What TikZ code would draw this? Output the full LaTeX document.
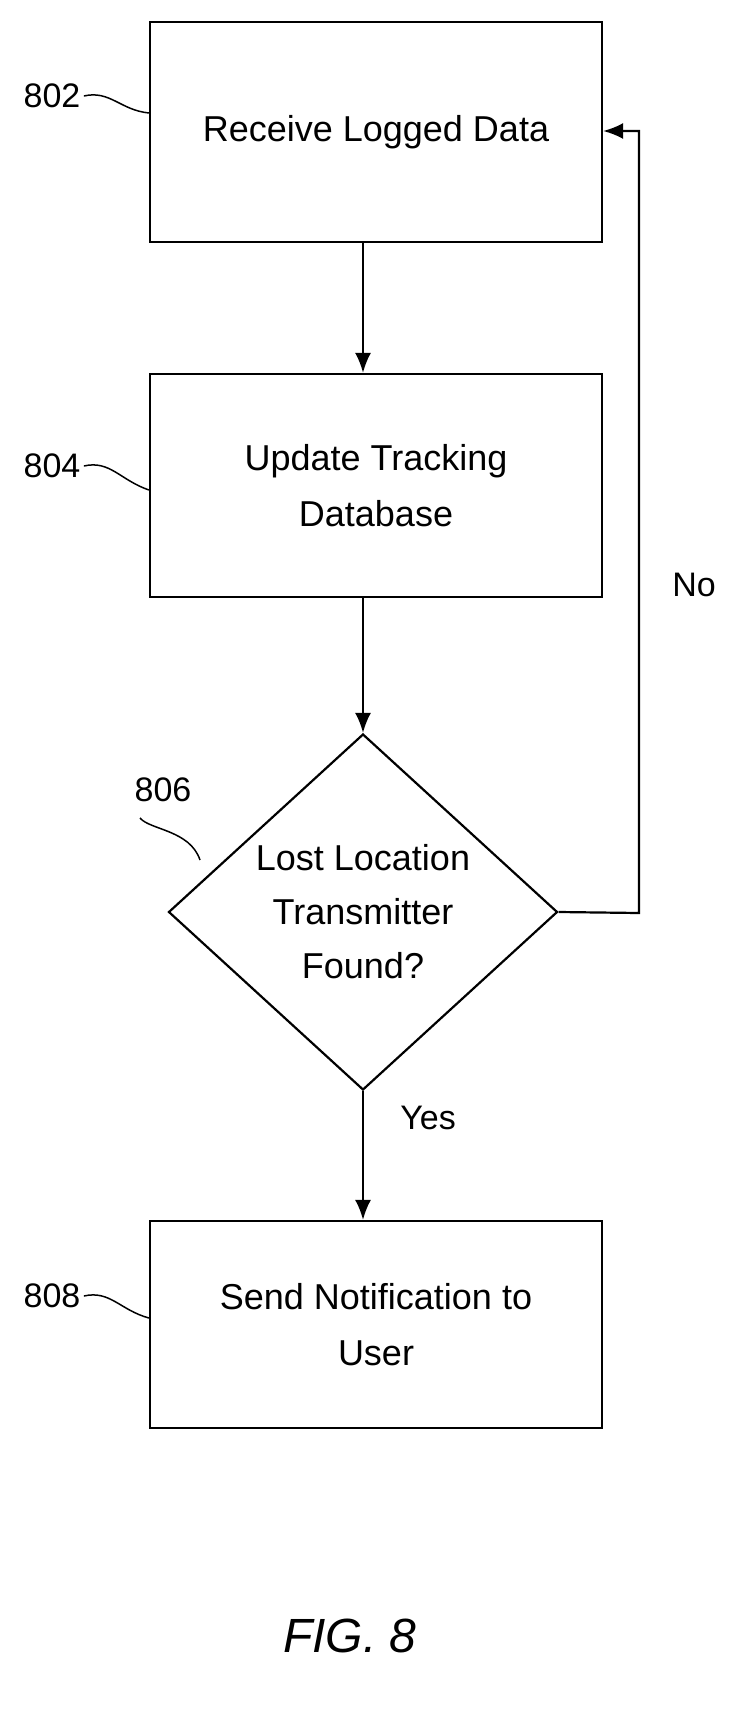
\documentclass[tikz,border=0pt]{standalone}
\usepackage{fontspec}
\setmainfont{Liberation Sans}
\usetikzlibrary{shapes.geometric,arrows.meta}
\begin{document}
\begin{tikzpicture}[x=1pt,y=-1pt,
 box/.style={draw,line width=2.2pt,minimum width=452pt,align=center,font=\fontsize{36}{56}\selectfont},
 lab/.style={font=\fontsize{34}{40}\selectfont},
 arr/.style={line width=2.2pt,-{Latex[length=20pt,width=16pt]}}]
\useasboundingbox (0,0) rectangle (733,1712);
\node[box,minimum height=220pt] (b1) at (376,132) {Receive Logged Data};
\node[box,minimum height=223pt] (b2) at (376,485.5) {Update Tracking\\Database};
\node[draw,line width=2.2pt,diamond,minimum width=389pt,minimum height=356pt,inner sep=0pt,align=center,font=\fontsize{36}{54}\selectfont] (d) at (363,912) {Lost Location\\Transmitter\\Found?};
\node[box,minimum height=207pt] (b4) at (376,1324.5) {Send Notification to\\User};
\draw[arr] (b1.south -| d.north) -- (b2.north -| d.north);
\draw[arr] (b2.south -| d.north) -- (d.north);
\draw[arr] (d.south) -- (b4.north -| d.south);
\coordinate (c1) at (639,913);
\coordinate (c2) at (639,131);
\draw[arr] (d.east) -- (c1) -- (c2) -- (b1.east |- c2);
\node[lab] (n2) at (52,96) {802};
\node[lab] (n4) at (52,466) {804};
\node[lab] (n8) at (52,1296) {808};
\node[lab] (n6) at (163,790) {806};
\node[lab] (no) at (694,585) {No};
\node[lab] (yes) at (428,1118) {Yes};
\node[font=\fontsize{48}{56}\selectfont\itshape] (fig) at (350,1636) {FIG. 8};
\draw[line width=1.5pt] (n2.east) .. controls (110,90) and (120,110) .. (b1.west |- 0,113);
\draw[line width=1.5pt] (n4.east) .. controls (110,460) and (120,480) .. (b2.west |- 0,490);
\draw[line width=1.5pt] (n8.east) .. controls (110,1290) and (120,1310) .. (b4.west |- 0,1318);
\draw[line width=1.5pt] (140,818) .. controls (150,830) and (190,830) .. (200,860);
\end{tikzpicture}
\end{document}
